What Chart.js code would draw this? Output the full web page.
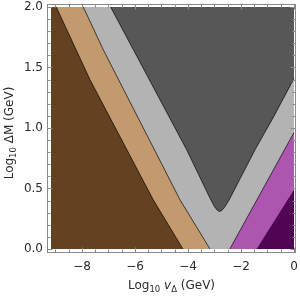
<!DOCTYPE html>
<html>
<head>
<meta charset="utf-8">
<script src="https://cdn.jsdelivr.net/npm/chart.js@4.4.1/dist/chart.umd.min.js"></script>
<style>
  html, body { margin: 0; padding: 0; background: #fff; }
</style>
</head>
<body>
<canvas id="chart" width="300" height="296"></canvas>
<script>
// ---- region boundaries (x = log10 v, y = log10 dM) ----
// brown is the only layer reaching the left edge of the plotted range
const brownX = [-9.169, -8.97, -7.70, -5.31, -4.19];
const brownY = [2, 2, 1.40, 0.406, 0];

const tanX = [-9.0, -7.95, -7.20, -4.30, -3.17];
const tanY = [2, 2, 1.648, 0.406, 0];

const lightX = [-8.9, 0];
const lightY = [2, 2];

// lower edge of the dark grey "V"
const darkX = [-6.92, -4.05, -3.2, -3.0, -2.9, -2.82, -2.73, -2.62, -2.45, -1.47, -0.75, 0];
const darkY = [2, 0.82, 0.434, 0.35, 0.322, 0.31, 0.317, 0.345, 0.404, 0.82, 1.10, 1.41];

const magentaX = [-2.42, 0];
const magentaY = [0, 0.963];

const purpleX = [-1.41, 0];
const purpleY = [0, 0.49];

const xTickVals = [-8, -6, -4, -2, 0];
const yTickVals = [0, 0.5, 1, 1.5, 2];

// ---- look ----
const FONT = "'DejaVu Sans', sans-serif";
const textColor = '#2b2b2b';
const frameColor = '#8a8a8a';
const edgeColor = 'rgba(0,0,0,0.75)';
const colors = {
    brown: '#644221',
    tan: '#c39a6e',
    light: '#b3b3b3',
    dark: '#575757',
    magenta: '#ad56b0',
    purple: '#4f0454'
};

const pts = (xs, ys) => xs.map((x, i) => ({ x, y: ys[i] }));

const base = {
    showLine: true,
    pointRadius: 0,
    pointHoverRadius: 0,
    tension: 0
};

// filled region without outline
const region = (label, xs, ys, color, fillTo) => ({
    ...base, label,
    data: pts(xs, ys),
    backgroundColor: color,
    borderColor: 'transparent',
    borderWidth: 1,
    fill: { value: fillTo }
});

// thin dark contour line between two regions (points below the top edge only)
const edge = (label, xs, ys) => {
    const data = pts(xs, ys).filter((p, i, arr) => !(p.y >= 2 && arr[i + 1] && arr[i + 1].y >= 2));
    return { ...base, label, data, fill: false, borderColor: edgeColor, borderWidth: 0.9 };
};

// first dataset is painted last (on top)
const datasets = [
    edge('brown edge', brownX, brownY),
    edge('tan edge', tanX, tanY),
    edge('dark edge', darkX, darkY),
    edge('magenta edge', magentaX, magentaY),
    region('purple', purpleX, purpleY, colors.purple, 0),
    region('magenta', magentaX, magentaY, colors.magenta, 0),
    region('brown', brownX, brownY, colors.brown, 0),
    region('tan', tanX, tanY, colors.tan, 0),
    region('dark', darkX, darkY, colors.dark, 2),
    region('light', lightX, lightY, colors.light, 0)
];

// frame with inward ticks on all four sides + axis titles with sub-scripts
const framePlugin = {
    id: 'frame',
    afterDraw(chart) {
        const { ctx, chartArea: a, scales: { x, y } } = chart;
        ctx.save();
        ctx.strokeStyle = frameColor;
        ctx.lineWidth = 1;
        ctx.strokeRect(a.left + 0.5, a.top + 0.5, a.right - a.left - 1, a.bottom - a.top - 1);

        ctx.beginPath();
        for (let v = -9; v <= 0.001; v += 0.5) {
            const major = xTickVals.some(t => Math.abs(t - v) < 1e-6);
            const len = major ? 4.5 : 2.5;
            const px = Math.round(x.getPixelForValue(v)) + 0.5;
            ctx.moveTo(px, a.bottom - 1); ctx.lineTo(px, a.bottom - 1 - len);
            ctx.moveTo(px, a.top + 1); ctx.lineTo(px, a.top + 1 + len);
        }
        for (let i = 0; i <= 20; i++) {
            const v = i / 10;
            const major = i % 5 === 0;
            const len = major ? 4.5 : 2.5;
            const py = Math.round(y.getPixelForValue(v)) + 0.5;
            ctx.moveTo(a.left + 1, py); ctx.lineTo(a.left + 1 + len, py);
            ctx.moveTo(a.right - 1, py); ctx.lineTo(a.right - 1 - len, py);
        }
        ctx.stroke();

        ctx.fillStyle = textColor;
        ctx.textBaseline = 'alphabetic';
        const big = `12px ${FONT}`;
        const small = `8.5px ${FONT}`;
        const ital = `italic 12px ${FONT}`;

        const drawRich = (parts, cx, cy) => {
            let total = 0;
            parts.forEach(p => { ctx.font = p.f; p.w = ctx.measureText(p.t).width; total += p.w; });
            let xx = cx - total / 2;
            parts.forEach(p => { ctx.font = p.f; ctx.fillText(p.t, xx, cy + (p.dy || 0)); xx += p.w; });
        };

        drawRich([
            { t: 'Log', f: big },
            { t: '10', f: small, dy: 3 },
            { t: ' ', f: big },
            { t: 'v', f: ital },
            { t: 'Δ', f: small, dy: 3 },
            { t: ' (GeV)', f: big }
        ], (a.left + a.right) / 2, 289);

        ctx.translate(13, 133);
        ctx.rotate(-Math.PI / 2);
        drawRich([
            { t: 'Log', f: big },
            { t: '10', f: small, dy: 3 },
            { t: ' ΔM (GeV)', f: big }
        ], 0, 0);
        ctx.restore();
    }
};

new Chart(document.getElementById('chart'), {
    type: 'scatter',
    data: { datasets },
    options: {
        responsive: false,
        animation: false,
        events: [],
        layout: { padding: { top: 4, right: 4, left: 0, bottom: 0 } },
        plugins: { legend: { display: false }, tooltip: { enabled: false } },
        scales: {
            x: {
                type: 'linear',
                min: -9.32,
                max: 0.076,
                afterBuildTicks: s => { s.ticks = xTickVals.map(v => ({ value: v })); },
                afterFit: s => { s.height = 43; s.paddingLeft = 0; s.paddingRight = 0; },
                grid: { display: false, drawTicks: false },
                border: { display: false },
                ticks: {
                    autoSkip: false, maxRotation: 0, padding: 7,
                    color: textColor, font: { family: FONT, size: 12 },
                    callback: v => String(v).replace('-', '\u2212')
                }
            },
            y: {
                type: 'linear',
                min: -0.0331,
                max: 2.0248,
                afterBuildTicks: s => { s.ticks = yTickVals.map(v => ({ value: v })); },
                afterFit: s => { s.width = 47; s.paddingTop = 0; s.paddingBottom = 0; },
                grid: { display: false, drawTicks: false },
                border: { display: false },
                ticks: {
                    autoSkip: false, padding: 4,
                    color: textColor, font: { family: FONT, size: 12 },
                    callback: v => v.toFixed(1)
                }
            }
        }
    },
    plugins: [framePlugin]
});
</script>
</body>
</html>
